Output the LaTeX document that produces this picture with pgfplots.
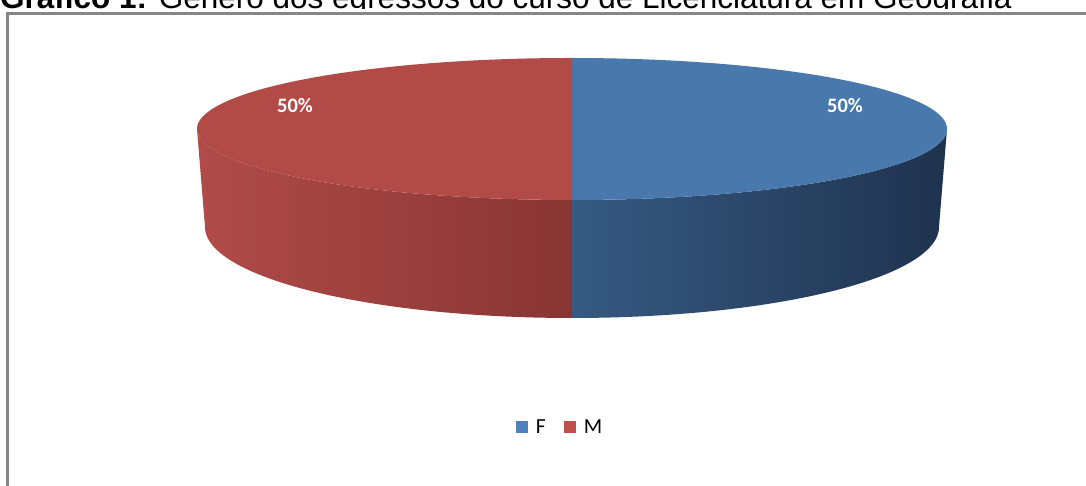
\documentclass[border=0pt]{standalone}
\usepackage{pgfplots}
\pgfplotsset{compat=1.18}
\usepackage{fontspec}
\setmainfont{Liberation Sans}
\newfontfamily\calibri{Carlito}
\definecolor{topF}{RGB}{72,120,172}
\definecolor{topM}{RGB}{178,75,72}
\definecolor{sideFl}{RGB}{54,90,130}
\definecolor{sideFr}{RGB}{31,50,78}
\definecolor{sideMl}{RGB}{176,75,72}
\definecolor{sideMr}{RGB}{136,53,52}
\definecolor{legF}{RGB}{79,129,189}
\definecolor{legM}{RGB}{192,80,77}
\definecolor{frameGray}{RGB}{134,134,134}
% data (percent)
\def\valF{50}
\def\valM{50}
\pgfmathsetmacro\angF{360*(\valF/(\valF+\valM))}
\pgfmathsetmacro\FA{90}
\pgfmathsetmacro\FB{90-\angF}
\pgfmathsetmacro\MB{-270}
\begin{document}
\begin{tikzpicture}
\clip (0,0) rectangle (1086pt,486pt);
\begin{axis}[at={(0,0)}, anchor=south west, scale only axis,
  width=1086pt, height=486pt, xmin=0, xmax=1086, ymin=-486, ymax=0,
  hide axis, clip=false,
  legend columns=2,
  legend style={at={(axis cs:560,-427)}, anchor=center, draw=none, fill=none,
    font=\calibri\fontsize{21.5}{24}\selectfont,
    /tikz/every odd column/.append style={column sep=6pt},
    /tikz/every even column/.append style={column sep=16pt}},
  legend image code/.code={\fill[#1, draw=none] (0pt,-6pt) rectangle (12pt,6pt);},
]
% title (partly hidden, as in the reference)
\node[anchor=base west, inner sep=0pt] at (axis cs:0,-8.6)
  {\fontsize{31.5}{36}\selectfont\textbf{Gráfico 1:} Gênero dos egressos do curso de Licenciatura em Geografia};
\fill[white] (axis cs:-5,-9.3) rectangle (axis cs:1095,-495);
% frame
\draw[color=frameGray, line width=2.5pt] (axis cs:7.3,-490) -- (axis cs:7.3,-13.3) -- (axis cs:1095,-13.3);
% side of M (visible 180..270)
\addplot[forget plot, draw=none, left color=sideMl, right color=sideMr, variable=\t, domain=0:2, samples=201]
  ({572+ifthenelse(\t<=1.005,375,367)*cos(ifthenelse(\t<=1.005,180+90*\t,270-90*(\t-1.01)/0.99))},
   {ifthenelse(\t<=1.005,-129,-227)+ifthenelse(\t<=1.005,71,91)*sin(ifthenelse(\t<=1.005,180+90*\t,270-90*(\t-1.01)/0.99))}) -- cycle;
% side of F (visible 270..360)
\addplot[forget plot, draw=none, left color=sideFl, right color=sideFr, variable=\t, domain=0:2, samples=201]
  ({572+ifthenelse(\t<=1.005,375,367)*cos(ifthenelse(\t<=1.005,270+90*\t,360-90*(\t-1.01)/0.99))},
   {ifthenelse(\t<=1.005,-129,-227)+ifthenelse(\t<=1.005,71,91)*sin(ifthenelse(\t<=1.005,270+90*\t,360-90*(\t-1.01)/0.99))}) -- cycle;
% top faces
\addplot[forget plot, draw=none, fill=topF, domain=\FB:\FA, samples=181]
  ({572+375*cos(x)},{-129+71*sin(x)}) -- cycle;
\addplot[forget plot, draw=none, fill=topM, domain=\MB:\FB, samples=181]
  ({572+375*cos(x)},{-129+71*sin(x)}) -- cycle;
% labels
\node[text=white, font=\calibri\bfseries\fontsize{20.5}{24}\selectfont] at (axis cs:845,-106) {\valF\%};
\node[text=white, font=\calibri\bfseries\fontsize{20.5}{24}\selectfont] at (axis cs:295,-106) {\valM\%};
% legend
\addlegendimage{fill=legF, draw=none}
\addlegendentry{F}
\addlegendimage{fill=legM, draw=none}
\addlegendentry{M}
\end{axis}
\end{tikzpicture}
\end{document}
